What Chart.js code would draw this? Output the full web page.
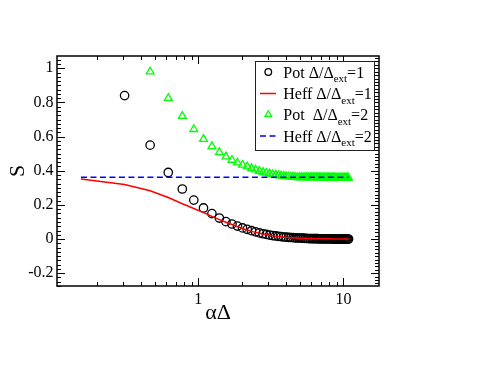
<!DOCTYPE html>
<html><head><meta charset="utf-8">
<script src="https://cdn.jsdelivr.net/npm/chart.js@4.4.0/dist/chart.umd.min.js"></script>
<style>html,body{margin:0;padding:0;background:#fff;}canvas{display:block;}</style>
</head><body>
<canvas id="c" width="494" height="382"></canvas>
<script>
// ---- data ----
const alphaDelta = [0.155, 0.31, 0.465, 0.62, 0.775, 0.93, 1.085, 1.24, 1.395, 1.55,
  1.705, 1.86, 2.015, 2.17, 2.325, 2.48, 2.635, 2.79, 2.945, 3.1,
  3.255, 3.41, 3.565, 3.72, 3.875, 4.03, 4.185, 4.34, 4.495, 4.65,
  4.805, 4.96, 5.115, 5.27, 5.425, 5.58, 5.735, 5.89, 6.045, 6.2,
  6.355, 6.51, 6.665, 6.82, 6.975, 7.13, 7.285, 7.44, 7.595, 7.75,
  7.905, 8.06, 8.215, 8.37, 8.525, 8.68, 8.835, 8.99, 9.145, 9.3,
  9.455, 9.61, 9.765, 9.92, 10.075, 10.23, 10.385, 10.54, 10.695, 10.85];
const potOne = [null, 0.84, 0.55, 0.39, 0.293, 0.228, 0.182, 0.149, 0.123, 0.102,
  0.088, 0.076, 0.065, 0.057, 0.049, 0.042, 0.036, 0.031, 0.027, 0.023,
  0.020, 0.018, 0.016, 0.014, 0.012, 0.011, 0.010, 0.009, 0.008, 0.007,
  0.006, 0.006, 0.005, 0.005, 0.004, 0.004, 0.003, 0.003, 0.003, 0.002,
  0.002, 0.002, 0.002, 0.001, 0.001, 0.001, 0.001, 0.001, 0.001, 0.001,
  0.001, 0.001, 0.001, 0.001, 0.001, 0.000, 0.000, 0.000, 0.000, 0.000,
  0.000, 0.000, 0.000, 0.000, 0.000, 0.000, 0.000, 0.000, 0.000, 0.000];
const heffOne = [0.351, 0.32, 0.283, 0.243, 0.207, 0.179, 0.155, 0.133, 0.114, 0.098,
  0.085, 0.073, 0.062, 0.053, 0.045, 0.039, 0.034, 0.029, 0.025, 0.022,
  0.019, 0.017, 0.015, 0.013, 0.011, 0.010, 0.009, 0.008, 0.007, 0.006,
  0.006, 0.005, 0.005, 0.004, 0.004, 0.003, 0.003, 0.003, 0.002, 0.002,
  0.002, 0.002, 0.002, 0.001, 0.001, 0.001, 0.001, 0.001, 0.001, 0.001,
  0.001, 0.001, 0.001, 0.001, 0.000, 0.000, 0.000, 0.000, 0.000, 0.000,
  0.000, 0.000, 0.000, 0.000, 0.000, 0.000, 0.000, 0.000, 0.000, 0.000];
const potTwo = [null, null, 0.98, 0.825, 0.72, 0.643, 0.585, 0.543, 0.508, 0.483,
  0.463, 0.447, 0.434, 0.424, 0.414, 0.406, 0.398, 0.392, 0.387, 0.383,
  0.379, 0.376, 0.373, 0.371, 0.369, 0.367, 0.366, 0.365, 0.364, 0.363,
  0.362, 0.362, 0.362, 0.362, 0.362, 0.361, 0.361, 0.361, 0.361, 0.361,
  0.361, 0.361, 0.361, 0.361, 0.361, 0.360, 0.360, 0.360, 0.360, 0.360,
  0.360, 0.360, 0.360, 0.360, 0.360, 0.359, 0.359, 0.359, 0.359, 0.359,
  0.359, 0.359, 0.359, 0.359, 0.359, 0.359, 0.359, 0.359, 0.359, 0.359];
const heffTwoX = [0.155, 10.85];
const heffTwo = [0.362, 0.362];
const xTickLabels = [1, 10];
const yTickLabels = [-0.2, 0, 0.2, 0.4, 0.6, 0.8, 1];
const seriesMain = ['Pot Δ/Δ', 'Heff Δ/Δ', 'Pot  Δ/Δ', 'Heff Δ/Δ'];
const seriesSub = ['ext', 'ext', 'ext', 'ext'];
const seriesTail = ['=1', '=1', '=2', '=2'];
const xTitle = 'αΔ';
const yTitle = 'S';

// ---- rendering ----
const SERIF = '"Liberation Serif", "Times New Roman", serif';
const pts = (xs, ys) => xs.map((x, i) => ({x: x, y: ys[i]})).filter(p => p.y !== null);
const label = i => seriesMain[i] + seriesSub[i] + seriesTail[i];

const framePlugin = {
  id: 'frame',
  afterDraw(chart) {
    const ctx = chart.ctx, a = chart.chartArea, xs = chart.scales.x, ys = chart.scales.y;
    ctx.save();
    ctx.strokeStyle = '#000';
    ctx.lineWidth = 1;
    ctx.beginPath();
    // x ticks (bottom and top, inward)
    for (const dec of [0.1, 1, 10]) {
      for (let m = 1; m <= 9; m++) {
        const v = m * dec;
        if (v < xs.min || v > xs.max) continue;
        const px = Math.round(xs.getPixelForValue(v)) + 0.5;
        const len = m === 1 ? 8 : 4;
        ctx.moveTo(px, a.bottom); ctx.lineTo(px, a.bottom - len);
        ctx.moveTo(px, a.top); ctx.lineTo(px, a.top + len);
      }
    }
    // y ticks left
    for (let i = -11; i <= 43; i++) {
      const v = i * 0.025;
      if (v < ys.min || v > ys.max) continue;
      const py = Math.round(ys.getPixelForValue(v)) + 0.5;
      const len = (i % 8 === 0) ? 8 : 4;
      ctx.moveTo(a.left, py); ctx.lineTo(a.left + len, py);
    }
    // y ticks right (denser)
    for (let i = -14; i <= 54; i++) {
      const v = i * 0.02;
      if (v < ys.min || v > ys.max) continue;
      const py = Math.round(ys.getPixelForValue(v)) + 0.5;
      const len = (i % 10 === 0) ? 8 : 4;
      ctx.moveTo(a.right, py); ctx.lineTo(a.right - len, py);
    }
    ctx.stroke();
    // frame
    ctx.lineWidth = 1.5;
    ctx.strokeRect(a.left, a.top, a.right - a.left, a.bottom - a.top);

    // legend
    const bx0 = 255.5, by0 = 61.5, bx1 = 374.5, by1 = 150.5;
    ctx.fillStyle = '#fff';
    ctx.fillRect(bx0, by0, bx1 - bx0, by1 - by0);
    ctx.lineWidth = 1;
    ctx.strokeStyle = '#222';
    ctx.strokeRect(bx0, by0, bx1 - bx0, by1 - by0);
    const rows = [72, 93.5, 114.5, 136];
    const symX = 268.3, textX = 283.3;
    const order = [0, 1, 2, 3];
    order.forEach((i, r) => {
      const cy = rows[r];
      ctx.save();
      if (i === 0) {
        ctx.strokeStyle = '#000'; ctx.lineWidth = 1.3;
        ctx.beginPath(); ctx.arc(symX, cy, 3.3, 0, Math.PI * 2); ctx.stroke();
      } else if (i === 1) {
        ctx.strokeStyle = '#ff0000'; ctx.lineWidth = 1.5;
        ctx.beginPath(); ctx.moveTo(260, cy); ctx.lineTo(276, cy); ctx.stroke();
      } else if (i === 2) {
        ctx.strokeStyle = '#00ff00'; ctx.lineWidth = 1.3;
        const rr = 3.8;
        ctx.beginPath();
        ctx.moveTo(symX, cy - rr);
        ctx.lineTo(symX + rr * 0.866, cy + rr / 2);
        ctx.lineTo(symX - rr * 0.866, cy + rr / 2);
        ctx.closePath(); ctx.stroke();
      } else {
        ctx.strokeStyle = '#0000ff'; ctx.lineWidth = 1.5; ctx.setLineDash([6, 3.5]);
        ctx.beginPath(); ctx.moveTo(260, cy); ctx.lineTo(276, cy); ctx.stroke();
      }
      ctx.restore();
      ctx.fillStyle = '#000';
      ctx.textBaseline = 'alphabetic';
      ctx.textAlign = 'left';
      const base = cy + 5.5;
      ctx.font = '16px ' + SERIF;
      ctx.fillText(seriesMain[i], textX, base);
      let x = textX + ctx.measureText(seriesMain[i]).width;
      ctx.font = '11px ' + SERIF;
      ctx.fillText(seriesSub[i], x, base + 4.5);
      x += ctx.measureText(seriesSub[i]).width;
      ctx.font = '16px ' + SERIF;
      ctx.fillText(seriesTail[i], x, base);
    });
    ctx.restore();
  }
};

new Chart(document.getElementById('c'), {
  type: 'scatter',
  data: {
    datasets: [
      {label: label(3), data: pts(heffTwoX, heffTwo), showLine: true, borderColor: '#0000ff',
        borderWidth: 1.5, borderDash: [6, 3.5], pointRadius: 0, fill: false},
      {label: label(1), data: pts(alphaDelta, heffOne), showLine: true, borderColor: '#ff0000',
        borderWidth: 1.5, pointRadius: 0, fill: false, tension: 0},
      {label: label(2), data: pts(alphaDelta, potTwo), showLine: false, pointStyle: 'triangle',
        pointRadius: 4.5, borderColor: '#00ff00', borderWidth: 1.3, backgroundColor: 'rgba(0,0,0,0)'},
      {label: label(0), data: pts(alphaDelta, potOne), showLine: false, pointStyle: 'circle',
        pointRadius: 4.2, borderColor: '#000', borderWidth: 1.3, backgroundColor: 'rgba(0,0,0,0)'}
    ]
  },
  options: {
    responsive: false, animation: false, devicePixelRatio: 1, events: [],
    layout: {padding: {top: 56, right: 115, left: 0, bottom: 0}},
    plugins: {legend: {display: false}, tooltip: {enabled: false}},
    scales: {
      x: {
        type: 'logarithmic', min: 0.106, max: 17.6,
        afterBuildTicks: s => { s.ticks = xTickLabels.map(v => ({value: v})); },
        afterFit: s => { s.height = 96; },
        grid: {display: false, drawTicks: false}, border: {display: false},
        ticks: {color: '#000', font: {family: SERIF, size: 16}, padding: 4, autoSkip: false,
          maxRotation: 0, callback: v => String(v)},
        title: {display: true, text: xTitle, color: '#000', font: {family: SERIF, size: 22},
          padding: {top: 0, bottom: 56}}
      },
      y: {
        type: 'linear', min: -0.275, max: 1.072,
        afterBuildTicks: s => { s.ticks = yTickLabels.map(v => ({value: v})); },
        afterFit: s => { s.width = 57; },
        grid: {display: false, drawTicks: false}, border: {display: false},
        ticks: {color: '#000', font: {family: SERIF, size: 16}, padding: 3.5,
          callback: v => (Math.abs(v) < 1e-9 ? '0' : (Math.abs(v - 1) < 1e-9 ? '1' : v.toFixed(1)))},
        title: {display: true, text: yTitle, color: '#000', font: {family: SERIF, size: 22},
          padding: {top: 5, bottom: 0}}
      }
    }
  },
  plugins: [framePlugin]
});
</script>
</body></html>
